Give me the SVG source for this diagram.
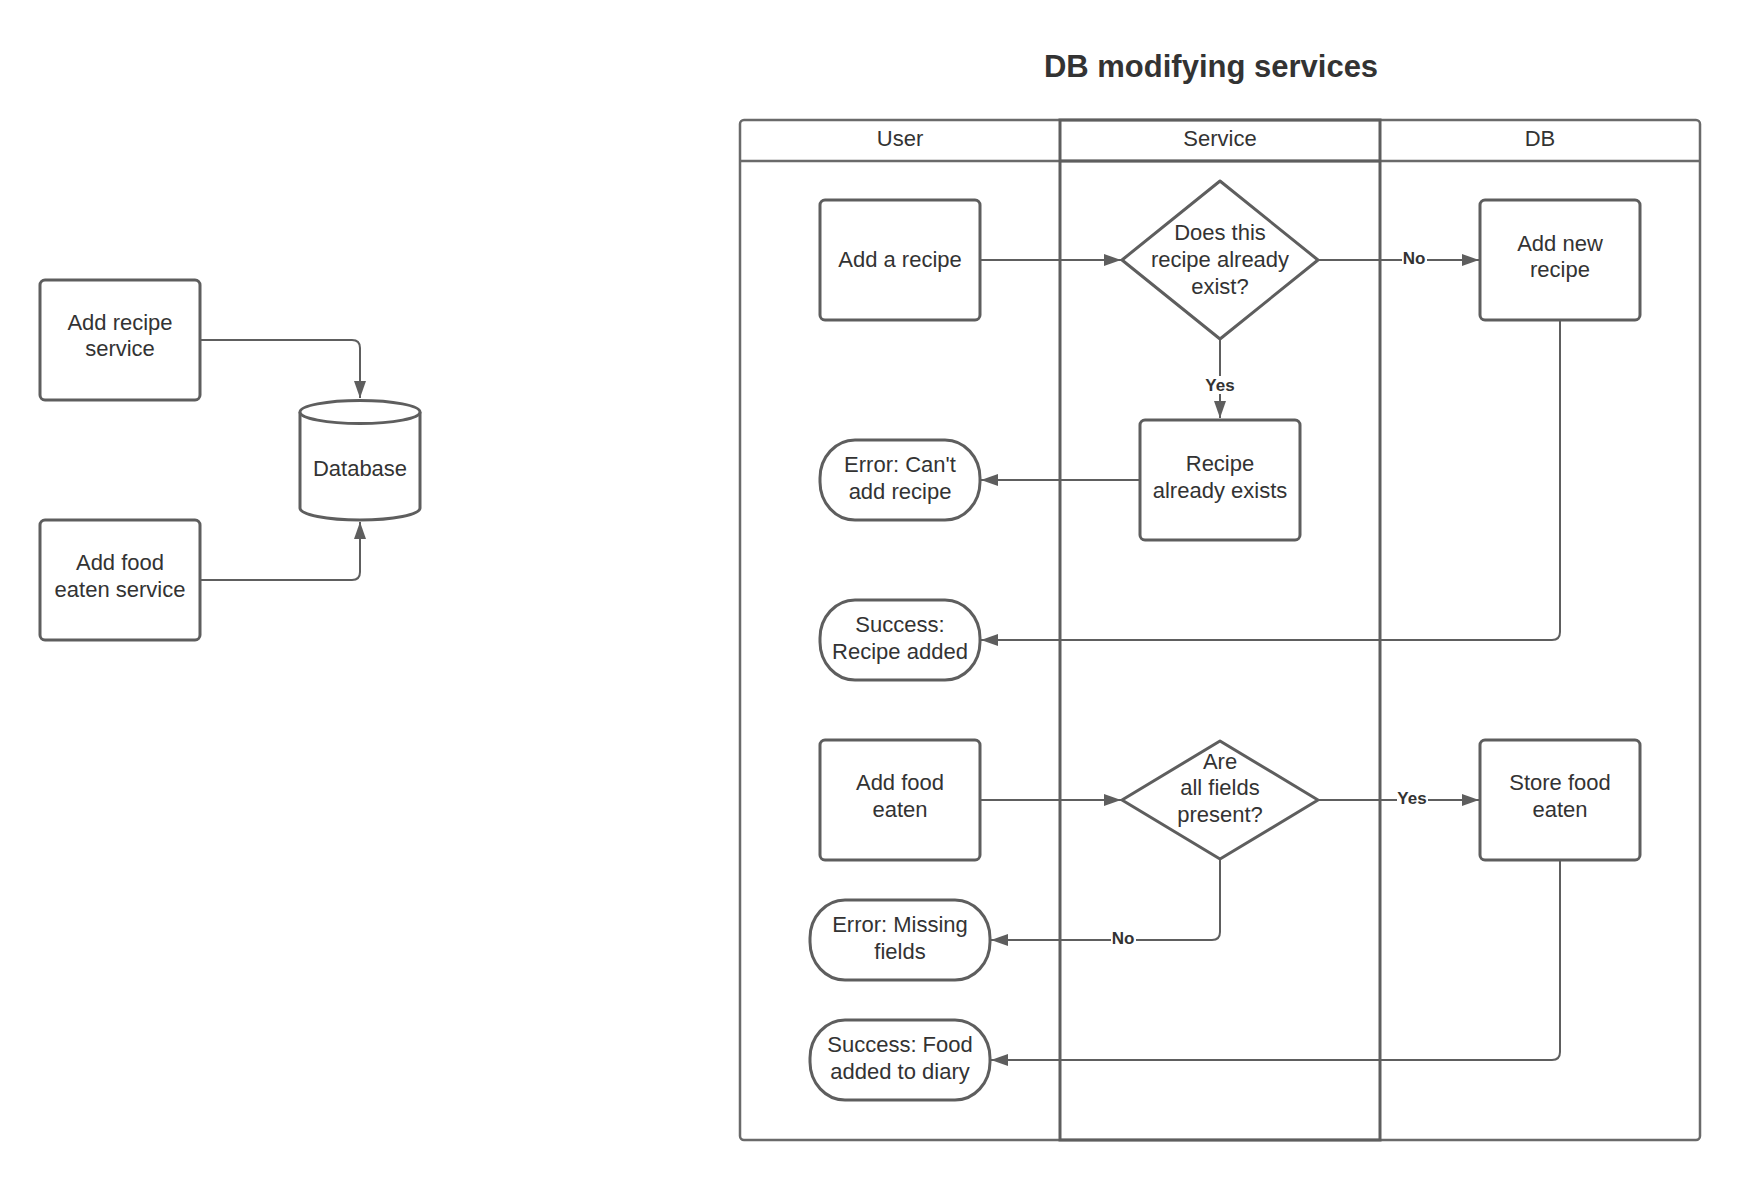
<svg xmlns="http://www.w3.org/2000/svg" width="1740" height="1180" viewBox="0 0 1740 1180">
  <style>
    .box { fill: #ffffff; stroke: #5e5e5e; stroke-width: 3; stroke-linejoin: round; }
    .lane { fill: none; stroke: #5e5e5e; stroke-width: 3; }
    .lane2 { fill: none; stroke: #6a6a6a; stroke-width: 2.5; }
    .t { font-family: "Liberation Sans", Arial, sans-serif; font-size: 22px; fill: #333333; text-anchor: middle; }
    .title { font-family: "Liberation Sans", Arial, sans-serif; font-size: 31px; font-weight: bold; fill: #333333; text-anchor: middle; }
    .lbl { font-family: "Liberation Sans", Arial, sans-serif; font-size: 17px; font-weight: bold; fill: #333333; text-anchor: middle; }
    .lblbg { fill: #ffffff; }
    .conn { fill: none; stroke: #5e5e5e; stroke-width: 2; }
  </style>
  <defs>
    <marker id="arrow" markerUnits="userSpaceOnUse" markerWidth="18" markerHeight="14" refX="17" refY="7" orient="auto">
      <path d="M0,1 L17,7 L0,13 Z" fill="#5e5e5e"/>
    </marker>
  </defs>
  <rect width="1740" height="1180" fill="#ffffff"/>

  <!-- Swimlane pool -->
  <g id="pool">
    <text class="title" x="1211" y="77">DB modifying services</text>
    <rect class="lane2" x="740" y="120" width="960" height="1020" rx="4"/>
    <line class="lane2" x1="740" y1="161" x2="1700" y2="161"/>
    <rect class="lane" x="1060" y="120" width="320" height="1020"/>
    <line class="lane" x1="1060" y1="161" x2="1380" y2="161"/>
    <text class="t" x="900" y="146">User</text>
    <text class="t" x="1220" y="146">Service</text>
    <text class="t" x="1540" y="146">DB</text>
  </g>

  <!-- Connectors -->
  <g id="connectors">
    <path class="conn" d="M200,340 H352 Q360,340 360,348 V398" marker-end="url(#arrow)"/>
    <path class="conn" d="M200,580 H352 Q360,580 360,572 V522" marker-end="url(#arrow)"/>
    <path class="conn" d="M980,260 H1121" marker-end="url(#arrow)"/>
    <path class="conn" d="M1318,260 H1479" marker-end="url(#arrow)"/>
    <path class="conn" d="M1220,339 V418" marker-end="url(#arrow)"/>
    <path class="conn" d="M1140,480 H981" marker-end="url(#arrow)"/>
    <path class="conn" d="M1560,320 V632 Q1560,640 1552,640 H981" marker-end="url(#arrow)"/>
    <path class="conn" d="M980,800 H1121" marker-end="url(#arrow)"/>
    <path class="conn" d="M1318,800 H1479" marker-end="url(#arrow)"/>
    <path class="conn" d="M1220,859 V932 Q1220,940 1212,940 H991" marker-end="url(#arrow)"/>
    <path class="conn" d="M1560,860 V1052 Q1560,1060 1552,1060 H991" marker-end="url(#arrow)"/>
    <rect class="lblbg" x="1402" y="250" width="25" height="18"/>
    <text class="lbl" x="1414" y="264">No</text>
    <rect class="lblbg" x="1204" y="376" width="32" height="18"/>
    <text class="lbl" x="1220" y="391">Yes</text>
    <rect class="lblbg" x="1397" y="790" width="31" height="18"/>
    <text class="lbl" x="1412" y="804">Yes</text>
    <rect class="lblbg" x="1111" y="930" width="25" height="18"/>
    <text class="lbl" x="1123" y="944">No</text>
  </g>

  <!-- Left diagram -->
  <g id="add-recipe-service">
    <rect class="box" x="40" y="280" width="160" height="120" rx="5"/>
    <text class="t" x="120" y="330">Add recipe</text>
    <text class="t" x="120" y="356">service</text>
  </g>
  <g id="add-food-eaten-service">
    <rect class="box" x="40" y="520" width="160" height="120" rx="5"/>
    <text class="t" x="120" y="570">Add food</text>
    <text class="t" x="120" y="597">eaten service</text>
  </g>
  <g id="database">
    <path class="box" d="M300,412 A60,11.5 0 0 1 420,412 V508 A60,12 0 0 1 300,508 Z"/>
    <path class="box" fill="none" d="M300,412 A60,11.5 0 0 0 420,412"/>
    <text class="t" x="360" y="476">Database</text>
  </g>

  <!-- Recipe flow -->
  <g id="add-a-recipe">
    <rect class="box" x="820" y="200" width="160" height="120" rx="5"/>
    <text class="t" x="900" y="267">Add a recipe</text>
  </g>
  <g id="recipe-exists-decision">
    <path class="box" d="M1220,181 L1318,260 L1220,339 L1122,260 Z"/>
    <text class="t" x="1220" y="240">Does this</text>
    <text class="t" x="1220" y="267">recipe already</text>
    <text class="t" x="1220" y="294">exist?</text>
  </g>
  <g id="add-new-recipe">
    <rect class="box" x="1480" y="200" width="160" height="120" rx="5"/>
    <text class="t" x="1560" y="251">Add new</text>
    <text class="t" x="1560" y="277">recipe</text>
  </g>
  <g id="recipe-already-exists">
    <rect class="box" x="1140" y="420" width="160" height="120" rx="5"/>
    <text class="t" x="1220" y="471">Recipe</text>
    <text class="t" x="1220" y="498">already exists</text>
  </g>
  <g id="error-cant-add-recipe">
    <rect class="box" x="820" y="440" width="160" height="80" rx="35" ry="38"/>
    <text class="t" x="900" y="472">Error: Can't</text>
    <text class="t" x="900" y="499">add recipe</text>
  </g>
  <g id="success-recipe-added">
    <rect class="box" x="820" y="600" width="160" height="80" rx="35" ry="38"/>
    <text class="t" x="900" y="632">Success:</text>
    <text class="t" x="900" y="659">Recipe added</text>
  </g>

  <!-- Food flow -->
  <g id="add-food-eaten">
    <rect class="box" x="820" y="740" width="160" height="120" rx="5"/>
    <text class="t" x="900" y="790">Add food</text>
    <text class="t" x="900" y="817">eaten</text>
  </g>
  <g id="fields-present-decision">
    <path class="box" d="M1220,741 L1318,800 L1220,859 L1122,800 Z"/>
    <text class="t" x="1220" y="769">Are</text>
    <text class="t" x="1220" y="795">all fields</text>
    <text class="t" x="1220" y="822">present?</text>
  </g>
  <g id="store-food-eaten">
    <rect class="box" x="1480" y="740" width="160" height="120" rx="5"/>
    <text class="t" x="1560" y="790">Store food</text>
    <text class="t" x="1560" y="817">eaten</text>
  </g>
  <g id="error-missing-fields">
    <rect class="box" x="810" y="900" width="180" height="80" rx="35" ry="38"/>
    <text class="t" x="900" y="932">Error: Missing</text>
    <text class="t" x="900" y="959">fields</text>
  </g>
  <g id="success-food-added">
    <rect class="box" x="810" y="1020" width="180" height="80" rx="35" ry="38"/>
    <text class="t" x="900" y="1052">Success: Food</text>
    <text class="t" x="900" y="1079">added to diary</text>
  </g>
</svg>
